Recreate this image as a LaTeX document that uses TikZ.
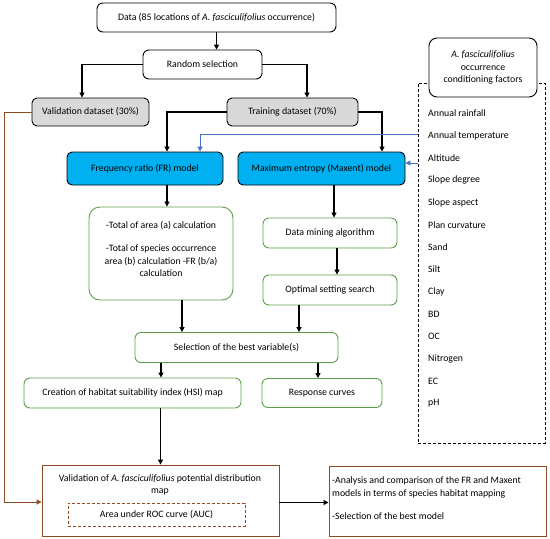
\documentclass[tikz,border=0pt]{standalone}
\usepackage{fontspec}
\setmainfont{Carlito}
\usetikzlibrary{arrows.meta}
\definecolor{gbd}{HTML}{5E9E4A}
\definecolor{brn}{HTML}{8E4A22}
\definecolor{skyb}{HTML}{00B0F0}
\definecolor{lnk}{HTML}{4472C4}
\definecolor{gryf}{HTML}{D9D9D9}
\begin{document}
\begin{tikzpicture}[x=1pt,y=-1pt,
  font=\fontsize{9.8}{12.6}\selectfont,
  base/.style={draw, line width=0.9pt, inner sep=2pt, align=center},
  blk/.style={base, rounded corners=6pt, fill=white},
  gry/.style={base, rounded corners=5pt, fill=gryf},
  blu/.style={base, rounded corners=5pt, fill=skyb},
  grn/.style={base, draw=gbd, rounded corners=6pt, fill=white},
  brbox/.style={base, draw=brn, fill=white},
  arr/.style={-{Triangle[length=5pt,width=5pt]}, line width=1.2pt},
  barr/.style={-{Triangle[length=5pt,width=5pt]}, line width=1pt, draw=lnk},
  brarr/.style={-{Triangle[length=5pt,width=5pt]}, line width=1pt, draw=brn},
  fact/.style={anchor=west, inner sep=0pt}
]
\useasboundingbox (0,0) rectangle (550,539);

% top
\node[blk, minimum width=239pt, minimum height=29pt] (data) at (216.5,17.5) {Data (85 locations of \textit{A. fasciculifolius} occurrence)};
\node[blk, minimum width=119pt, minimum height=29pt] (rand) at (202.5,64.5) {Random selection};
\node[gry, minimum width=117pt, minimum height=28pt] (vald) at (90.5,112) {Validation dataset (30\%)};
\node[gry, minimum width=131pt, minimum height=28pt] (train) at (292.5,112) {Training dataset (70\%)};

% models
\node[blu, minimum width=156pt, minimum height=33pt] (fr) at (145,168.5) {Frequency ratio (FR) model};
\node[blu, minimum width=167pt, minimum height=33pt] (mx) at (321.5,168.5) {Maximum entropy (Maxent) model};

% green boxes
\node[grn, rounded corners=11pt, minimum width=144pt, minimum height=93pt] (frg) at (161,253.5) {};
\node[inner sep=0pt, align=center] (frgt) at (161,249) {-Total of area (a) calculation\\[11pt]-Total of species occurrence\\area (b) calculation -FR (b/a)\\calculation};
\node[grn, minimum width=134pt, minimum height=30pt] (dm) at (330,233) {Data mining algorithm};
\node[grn, minimum width=134pt, minimum height=30pt] (opt) at (330,290) {Optimal setting search};
\node[grn, minimum width=203pt, minimum height=30pt] (sel) at (236.5,347.5) {Selection of the best variable(s)};
\node[grn, minimum width=217pt, minimum height=30pt] (cre) at (132.5,393) {Creation of habitat suitability index (HSI) map};
\node[grn, minimum width=120pt, minimum height=29pt] (resp) at (322,393) {Response curves};

% factors
\node[draw, dash pattern=on 3pt off 2pt, line width=1pt, minimum width=127pt, minimum height=360pt, inner sep=0pt] (fac) at (481.5,263) {};
\node[blk, rounded corners=8pt, minimum width=108pt, minimum height=59pt] (hdr) at (483,67.5) {\textit{A. fasciculifolius}\\occurrence\\conditioning factors};
\foreach \t [count=\i] in {Annual rainfall, Annual temperature, Altitude, Slope degree, Slope aspect, Plan curvature, Sand, Silt, Clay, BD, OC, Nitrogen, EC, pH}
  \node[fact] (f\i) at (428,{113.3+22.3*(\i-1)}) {\t};

% validation
\node[brbox, minimum width=237pt, minimum height=71pt] (val) at (160.5,500.5) {};
\node[inner sep=0pt, align=center] (valt) at (160,485) {Validation of \textit{A. fasciculifolius} potential distribution\\map};
\node[draw=brn, dash pattern=on 3pt off 2pt, line width=1pt, minimum width=177pt, minimum height=23pt, inner sep=0pt] (auc) at (156.5,514.5) {Area under ROC curve (AUC)};
\node[brbox, minimum width=217pt, minimum height=70pt, align=left] (res) at (437.5,501) {};
\node[inner sep=0pt, align=left, anchor=west] (rest) at (332,498.5) {-Analysis and comparison of the FR and Maxent\\models in terms of species habitat mapping\\[11pt]-Selection of the best model};

% connectors
\draw[arr] (data.south) -- (data.south |- rand.north);
\draw[arr] (rand.west) -| ([xshift=-8.5pt]vald.north);
\draw[arr] (rand.east) -| ([xshift=14.5pt]train.north);
\draw[arr] (train.west) -| ([xshift=22pt]fr.north);
\draw[arr] (train.east) -| ([xshift=60.5pt]mx.north);
\draw[barr] (fac.west |- 0,134) -| ([xshift=55pt]fr.north);
\draw[barr] (fac.west |- 0,163) -- (mx.east |- 0,163);
\draw[arr] ([xshift=22pt]fr.south) -- ([xshift=22pt]fr.south |- frg.north);
\draw[arr] ([xshift=4pt]dm.north |- mx.south) -- ([xshift=4pt]dm.north);
\draw[arr] ([xshift=7pt]dm.south) -- ([xshift=7pt]opt.north);
\draw[arr] ([xshift=21pt]frg.south) -- ([xshift=21pt]frg.south |- sel.north);
\draw[arr] ([xshift=-31pt]opt.south) -- ([xshift=-31pt]opt.south |- sel.north);
\draw[arr] ([xshift=-75.5pt]sel.south) -- ([xshift=-75.5pt]sel.south |- cre.north);
\draw[arr] ([xshift=81.5pt]sel.south) -- ([xshift=81.5pt]sel.south |- resp.north);
\draw[arr] (val.north |- cre.south) -- (val.north);
\draw[arr] ([yshift=-2pt]val.east) -- ([yshift=-2pt]val.east -| res.west);
\draw[brarr] (vald.west) -- (vald.west -| 4,0) |- ([yshift=-1.5pt]val.west);
\end{tikzpicture}
\end{document}
